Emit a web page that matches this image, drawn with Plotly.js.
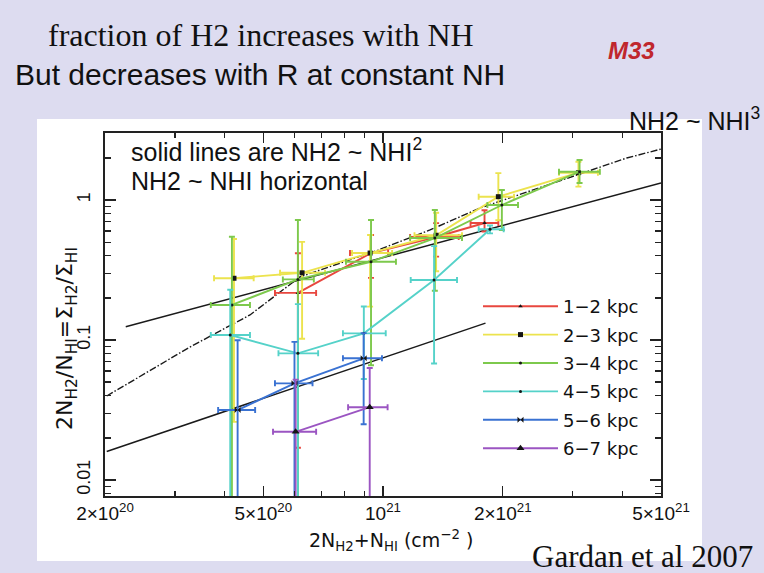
<!DOCTYPE html>
<html><head><meta charset="utf-8">
<script src="https://cdn.plot.ly/plotly-3.0.1.min.js"></script>
<style>html,body{margin:0;padding:0;background:#dddcf0;}#chart{width:764px;height:573px;}</style>
</head><body><div id="chart"></div>
<script>
// ---- data ----
const seriesNames = ['1\u22122 kpc','2\u22123 kpc','3\u22124 kpc','4\u22125 kpc','5\u22126 kpc','6\u22127 kpc'];
const seriesColors = ['#e8473f','#ece34e','#7dc94c','#55d2c9','#3a72d2','#9b55c2'];

// 1-2 kpc
const x12 = [6.11e20, 9.33e20, 1.36e21, 1.80e21];
const y12 = [0.217, 0.418, 0.544, 0.685];
const y12Up = [0.20, 0.144, 0.14, 0.16];
const y12Dn = [0.20, 0.14, 0.15, 0.09];
const x12Lo = [5.35e20, 8.26e20, 1.17e21, 1.66e21];
const x12Hi = [6.79e20, 1.03e21, 1.55e21, 1.95e21];
// 2-3 kpc
const x23 = [4.22e20, 6.26e20, 9.28e20, 1.36e21, 1.95e21, 3.10e21];
const y23 = [0.276, 0.302, 0.418, 0.56, 1.056, 1.567];
const y23Up = [0.25, 0.20, 0.144, 0.25, 0.5, 0.31];
const y23Dn = [0.25, 0.20, 0.245, 0.25, 0.34, 0.32];
const x23Lo = [3.76e20, 5.51e20, 8.36e20, 1.20e21, 1.74e21, 2.77e21];
const x23Hi = [4.73e20, 7.15e20, 1.054e21, 1.58e21, 2.135e21, 3.47e21];
// 3-4 kpc
const x34 = [4.17e20, 6.11e20, 9.33e20, 1.35e21, 1.99e21, 3.12e21];
const y34 = [0.178, 0.271, 0.362, 0.535, 0.921, 1.593];
const y34Up = [0.369, 0.449, 0.358, 0.313, 0.258, 0.337];
const y34Dn = [0.369, 0.449, 0.296, 0.31, 0.31, 0.27];
const x34Lo = [3.69e20, 5.6e20, 8.07e20, 1.17e21, 1.83e21, 2.77e21];
const x34Hi = [4.63e20, 6.7e20, 1.078e21, 1.58e21, 2.185e21, 3.51e21];
// 4-5 kpc
const x45 = [4.13e20, 6.11e20, 8.95e20, 1.344e21, 1.858e21];
const y45 = [0.1086, 0.0803, 0.1116, 0.268, 0.618];
const y45Up = [0.12, 0.10, 0.062, 0.2, 0.04];
const y45Dn = [0.12, 0.10, 0.059, 0.2, 0.04];
const x45Lo = [3.69e20, 5.46e20, 7.93e20, 1.174e21, 1.74e21];
const x45Hi = [4.63e20, 6.87e20, 1.016e21, 1.535e21, 2.011e21];
// 5-6 kpc
const x56 = [4.31e20, 5.99e20, 8.94e20];
const y56 = [0.0316, 0.049, 0.074];
const y56Up = [0.068, 0.048, 0.038];
const y56Dn = [0.068, 0.048, 0.049];
const x56Lo = [3.85e20, 5.35e20, 7.93e20];
const x56Hi = [4.77e20, 6.65e20, 9.94e20];
// 6-7 kpc
const x67 = [6.03e20, 9.26e20];
const y67 = [0.0221, 0.0331];
const y67Up = [0.03, 0.03];
const y67Dn = [0.03, 0.035];
const x67Lo = [5.29e20, 8.17e20];
const x67Hi = [6.79e20, 1.027e21];

// model curves
const upperSolidX = [2.255e20, 5e21];
const upperSolidY = [0.1245, 1.323];
const lowerSolidX = [2.02e20, 1.81e21];
const lowerSolidY = [0.016, 0.132];
const dashDotX = [2.02e20, 3.27e20, 4.63e20, 6.18e20, 9.72e20, 1.313e21, 1.755e21, 4.10e21, 5e21];
const dashDotY = [0.0398, 0.0891, 0.151, 0.282, 0.439, 0.611, 0.877, 1.995, 2.31];

// axes ticks
const xTickVals = [2e20, 5e20, 1e21, 2e21, 5e21];
const xTickText = ['2\u00d710<sup>20</sup>','5\u00d710<sup>20</sup>','10<sup>21</sup>','2\u00d710<sup>21</sup>','5\u00d710<sup>21</sup>'];
const xMinorVals = [3e20, 4e20, 6e20, 7e20, 8e20, 9e20, 3e21, 4e21];
const yTickVals = [0.01, 0.1, 1];
const yTickText = ['0.01','0.1','1'];
const yMinorVals = [0.008,0.009,0.02,0.03,0.04,0.05,0.06,0.07,0.08,0.09,0.2,0.3,0.4,0.5,0.6,0.7,0.8,0.9,2,3];

// ---- build ----
const seriesData = [
  [x12,y12,y12Up,y12Dn,x12Lo,x12Hi],
  [x23,y23,y23Up,y23Dn,x23Lo,x23Hi],
  [x34,y34,y34Up,y34Dn,x34Lo,x34Hi],
  [x45,y45,y45Up,y45Dn,x45Lo,x45Hi],
  [x56,y56,y56Up,y56Dn,x56Lo,x56Hi],
  [x67,y67,y67Up,y67Dn,x67Lo,x67Hi]
];
const symbols = ['triangle-up','square','circle','circle','bowtie','triangle-up'];
const sizes = [4,5,3,3,6,7];

const traces = [];
const modelStyle = {color:'#1a1a1a', width:1.5};
traces.push({x:upperSolidX, y:upperSolidY, mode:'lines', line:modelStyle, showlegend:false, hoverinfo:'skip'});
traces.push({x:lowerSolidX, y:lowerSolidY, mode:'lines', line:modelStyle, showlegend:false, hoverinfo:'skip'});
traces.push({x:dashDotX, y:dashDotY, mode:'lines', line:{color:'#1a1a1a', width:1.4, dash:'7px,2px,1.5px,2px'}, showlegend:false, hoverinfo:'skip'});

seriesData.forEach((s, i) => {
  const [xs, ys, yu, yd, xl, xh] = s;
  traces.push({
    x: xs, y: ys, name: seriesNames[i], legendgroup: 'g'+i,
    mode: 'lines+markers',
    line: {color: seriesColors[i], width: 1.9},
    marker: {symbol: symbols[i], size: sizes[i], color: '#151515'},
    error_y: {type:'data', symmetric:false, array: yu, arrayminus: yd, color: seriesColors[i], thickness:1.9, width:3},
    error_x: {type:'data', symmetric:false,
      array: xh.map((v,k)=>v-xs[k]), arrayminus: xs.map((v,k)=>v-xl[k]),
      color: seriesColors[i], thickness:1.9, width:3}
  });
});

const L = 105, R = 661, T = 133, B = 496;
const px = v => (v - L) / (R - L);
const py = v => (B - v) / (B - T);

const sans = 'Liberation Sans, Arial, sans-serif';
const serif = 'Liberation Serif, Times New Roman, serif';
const dv = 'DejaVu Sans, sans-serif';

const layout = {
  width: 764, height: 573,
  margin: {l: L, r: 764 - R, t: T, b: 573 - B},
  paper_bgcolor: '#dddcf0',
  plot_bgcolor: '#ffffff',
  showlegend: true,
  legend: {x: px(478), y: py(288), xanchor:'left', yanchor:'top', bgcolor:'rgba(0,0,0,0)',
    font:{family: dv, size: 18, color:'#111'}, itemwidth: 75, tracegroupgap: 2},
  xaxis: {type:'log', range:[Math.log10(2e20)-1e-9, Math.log10(5e21)+1e-9],
    tickmode:'array', tickvals: xTickVals, ticktext: xTickText,
    ticks:'inside', ticklen:10, tickwidth:1.3, tickcolor:'#222',
    minor:{tickmode:'array', tickvals:xMinorVals, ticks:'inside', ticklen:5, tickwidth:1.3, tickcolor:'#222', showgrid:false},
    showline:true, linecolor:'#222', linewidth:1.6, mirror:'allticks',
    showgrid:false, zeroline:false,
    tickfont:{family: sans, size:19, color:'#111'}},
  yaxis: {type:'log', range:[-2.1143, 0.4786],
    tickmode:'array', tickvals: yTickVals, ticktext: yTickText, tickangle:-90,
    ticks:'inside', ticklen:11, tickwidth:1.3, tickcolor:'#222',
    minor:{tickmode:'array', tickvals:yMinorVals, ticks:'inside', ticklen:6, tickwidth:1.3, tickcolor:'#222', showgrid:false},
    showline:true, linecolor:'#222', linewidth:1.6, mirror:'allticks',
    showgrid:false, zeroline:false, ticklabelstandoff: 6,
    tickfont:{family: sans, size:18, color:'#111'}},
  shapes: [{type:'rect', xref:'paper', yref:'paper', x0: px(37), x1: px(702), y0: py(561), y1: py(119),
    fillcolor:'#ffffff', line:{width:0}, layer:'below'}],
  annotations: [
    {text:'fraction of H2 increases with NH', xref:'paper', yref:'paper', x: px(261), y: py(35), xanchor:'center', yanchor:'middle', showarrow:false, font:{family: serif, size:32, color:'#111'}},
    {text:'But decreases with R at constant NH', xref:'paper', yref:'paper', x: px(260), y: py(75), xanchor:'center', yanchor:'middle', showarrow:false, font:{family: sans, size:30, color:'#111'}},
    {text:'<b><i>M33</i></b>', xref:'paper', yref:'paper', x: px(631), y: py(50), xanchor:'center', yanchor:'middle', showarrow:false, font:{family: sans, size:24, color:'#c0272d'}},
    {text:'NH2 ~ NHI<sup>3</sup>', xref:'paper', yref:'paper', x: px(694), y: py(119), xanchor:'center', yanchor:'middle', showarrow:false, font:{family: sans, size:25, color:'#111'}},
    {text:'solid lines are NH2 ~ NHI<sup>2</sup>', xref:'paper', yref:'paper', x: px(129), y: py(150), xanchor:'left', yanchor:'middle', showarrow:false, font:{family: sans, size:25, color:'#111'}},
    {text:'NH2 ~ NHI horizontal', xref:'paper', yref:'paper', x: px(129), y: py(181), xanchor:'left', yanchor:'middle', showarrow:false, font:{family: sans, size:25, color:'#111'}},
    {text:'Gardan et al 2007', xref:'paper', yref:'paper', x: px(642), y: py(556), xanchor:'center', yanchor:'middle', showarrow:false, font:{family: serif, size:31, color:'#111'}},
    {text:'2N<sub>H2</sub>+N<sub>HI</sub> (cm<sup>\u22122</sup> )', xref:'paper', yref:'paper', x: px(391), y: py(540), xanchor:'center', yanchor:'middle', showarrow:false, font:{family: dv, size:19, color:'#111'}},
    {text:'2N<sub>H2</sub>/N<sub>HI</sub>=\u03a3<sub>H2</sub>/\u03a3<sub>HI</sub>', xref:'paper', yref:'paper', x: px(66), y: py(339), xanchor:'center', yanchor:'middle', textangle:-90, showarrow:false, font:{family: dv, size:22, color:'#111'}}
  ]
};

Plotly.newPlot('chart', traces, layout, {displayModeBar:false, staticPlot:true});
</script></body></html>
